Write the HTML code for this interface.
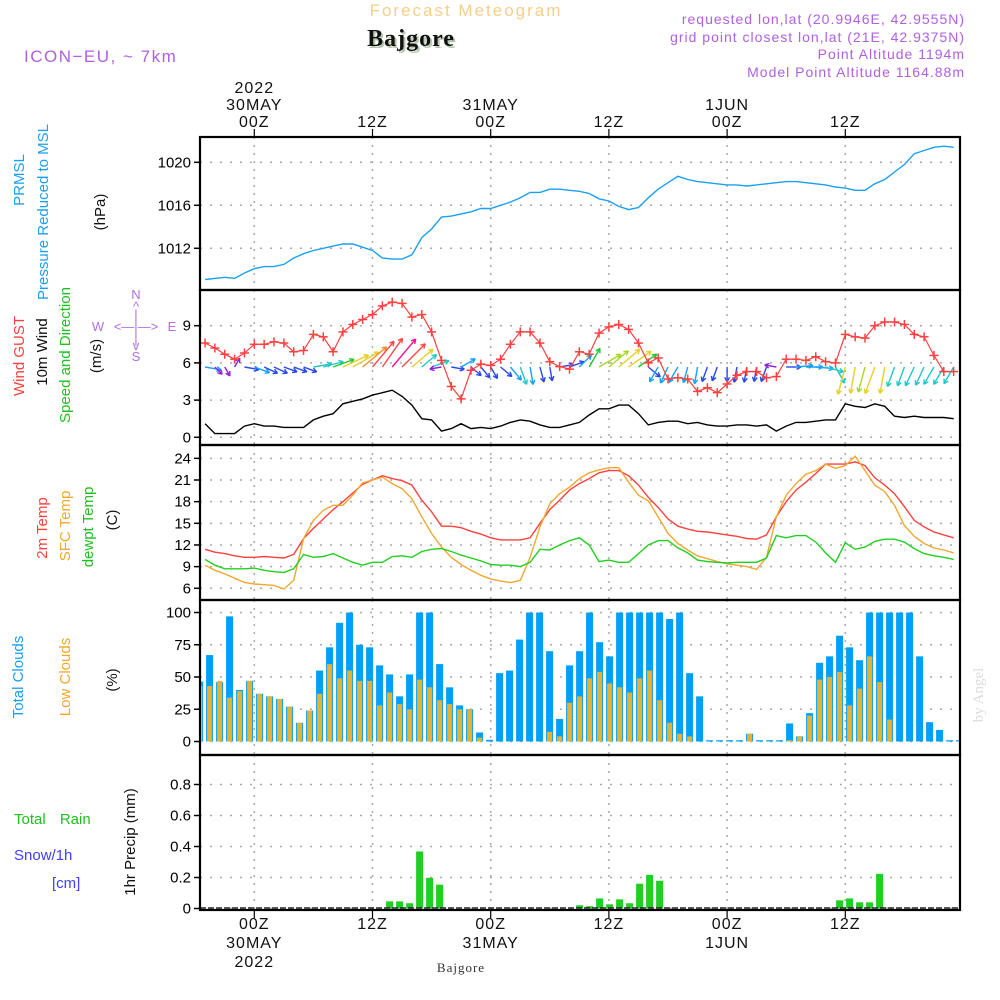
<!DOCTYPE html>
<html><head><meta charset="utf-8"><style>
html,body{margin:0;padding:0;background:#fff;}
svg{display:block;font-family:"Liberation Sans",sans-serif;}
</style></head><body>
<svg id="chart" width="1000" height="1000" viewBox="0 0 1000 1000" xmlns="http://www.w3.org/2000/svg">
<defs><clipPath id="plotclip"><rect x="201" y="137" width="758" height="773"/></clipPath></defs>
<g>
<text x="466" y="16" text-anchor="middle" font-size="17" fill="#f5cf8a" letter-spacing="2">Forecast Meteogram</text>
<text x="413" y="48" text-anchor="middle" font-size="24" font-weight="bold" font-family="Liberation Serif, serif" fill="#b8c8b0" letter-spacing="1">Bajgore</text>
<text x="411" y="46" text-anchor="middle" font-size="24" font-weight="bold" font-family="Liberation Serif, serif" fill="#111" letter-spacing="1">Bajgore</text>
<text x="24" y="62" font-size="17" fill="#b060e0" letter-spacing="1.5">ICON−EU, ~ 7km</text>
<g font-size="14" fill="#b060e0" text-anchor="end" letter-spacing="1">
<text x="965" y="24">requested lon,lat (20.9946E, 42.9555N)</text>
<text x="965" y="42">grid point closest lon,lat (21E, 42.9375N)</text>
<text x="965" y="59">Point Altitude 1194m</text>
<text x="965" y="77">Model Point Altitude 1164.88m</text>
</g>
</g>
<g id="axes"></g>
<g id="marks" clip-path="url(#plotclip)"></g>
<g font-size="15">
<text transform="translate(24,180) rotate(-90)" text-anchor="middle" fill="#1aa0f0">PRMSL</text>
<text transform="translate(48,212) rotate(-90)" text-anchor="middle" fill="#1aa0f0">Pressure Reduced to MSL</text>
<text transform="translate(105,212) rotate(-90)" text-anchor="middle" fill="#111">(hPa)</text>
<text transform="translate(24,356) rotate(-90)" text-anchor="middle" fill="#ff4040">Wind GUST</text>
<text transform="translate(47,352) rotate(-90)" text-anchor="middle" fill="#111">10m Wind</text>
<text transform="translate(70,355) rotate(-90)" text-anchor="middle" fill="#20c020">Speed and Direction</text>
<text transform="translate(101,356) rotate(-90)" text-anchor="middle" fill="#111">(m/s)</text>
<text transform="translate(47,528) rotate(-90)" text-anchor="middle" fill="#ff4040">2m Temp</text>
<text transform="translate(70,526) rotate(-90)" text-anchor="middle" fill="#f0a830">SFC Temp</text>
<text transform="translate(93,527) rotate(-90)" text-anchor="middle" fill="#20c020">dewpt Temp</text>
<text transform="translate(117,520) rotate(-90)" text-anchor="middle" fill="#111">(C)</text>
<text transform="translate(23,677) rotate(-90)" text-anchor="middle" fill="#1aa0f0">Total Clouds</text>
<text transform="translate(70,677) rotate(-90)" text-anchor="middle" fill="#f0a830">Low Clouds</text>
<text transform="translate(117,680) rotate(-90)" text-anchor="middle" fill="#111">(%)</text>
<text x="14" y="824" fill="#20c020" word-spacing="10">Total Rain</text>
<text x="14" y="860" fill="#4040ff">Snow/1h</text>
<text x="52" y="888" fill="#4040ff">[cm]</text>
<text transform="translate(135,842) rotate(-90)" text-anchor="middle" fill="#111">1hr Precip (mm)</text>
</g>
<g font-size="13" fill="#b070e0" text-anchor="middle">
<text x="136" y="299">N</text><text x="136" y="311">^</text><text x="136" y="319">|</text>
<text x="98" y="331">W</text><text x="136" y="331">&lt;—|—&gt;</text><text x="172" y="331">E</text>
<text x="136" y="343">|</text><text x="136" y="350">v</text><text x="136" y="361">S</text>
</g>
<text transform="translate(983,695) rotate(-90)" text-anchor="middle" font-size="15" font-family="Liberation Serif, serif" fill="#ddd">by Angel</text>
<text x="461" y="972" text-anchor="middle" font-size="13" font-family="Liberation Serif, serif" fill="#333" letter-spacing="1">Bajgore</text>
</svg>
<script>
const pres=[1009.1,1009.2,1009.3,1009.2,1009.7,1010.1,1010.3,1010.3,1010.5,1011.1,1011.5,1011.8,1012.0,1012.2,1012.4,1012.4,1012.1,1011.8,1011.1,1011.0,1011.0,1011.4,1013.0,1013.8,1014.9,1015.0,1015.2,1015.4,1015.7,1015.7,1016.0,1016.3,1016.7,1017.2,1017.2,1017.5,1017.5,1017.4,1017.3,1017.1,1016.6,1016.4,1015.9,1015.6,1015.8,1016.7,1017.5,1018.1,1018.7,1018.4,1018.2,1018.1,1018.0,1017.9,1017.9,1017.8,1017.9,1018.0,1018.1,1018.2,1018.2,1018.1,1018.0,1017.9,1017.7,1017.6,1017.4,1017.4,1018.0,1018.4,1019.1,1019.8,1020.8,1021.1,1021.4,1021.5,1021.4];
const gust=[7.6,7.2,6.7,6.3,6.8,7.5,7.5,7.7,7.6,6.9,7.0,8.3,8.1,6.9,8.5,9.1,9.5,9.9,10.6,10.9,10.8,9.7,9.9,8.5,6.2,4.1,3.1,5.4,5.9,5.8,6.3,7.5,8.5,8.5,7.6,6.1,5.7,5.5,6.9,6.7,8.4,8.9,9.1,8.7,7.6,6.0,6.4,4.7,4.8,4.7,3.7,4.0,3.6,4.3,5.0,5.3,5.3,4.8,4.9,6.3,6.3,6.2,6.5,6.1,6.0,8.3,8.1,8.0,9.0,9.3,9.3,9.1,8.3,8.1,6.6,5.3,5.3];
const wind=[1.1,0.3,0.3,0.3,0.9,1.1,0.9,0.9,0.8,0.8,0.8,1.4,1.7,1.9,2.7,2.9,3.1,3.4,3.6,3.8,3.3,2.6,1.5,1.4,0.5,0.7,1.1,0.7,0.8,0.7,0.9,1.2,1.4,1.3,1.0,0.8,0.8,1.0,1.2,1.8,2.3,2.3,2.6,2.6,1.9,1.0,1.2,1.3,1.3,1.1,1.2,1.0,0.9,0.9,1.0,1.0,0.9,1.0,0.5,0.9,1.2,1.2,1.3,1.4,1.4,2.7,2.5,2.4,2.7,2.5,1.7,1.6,1.7,1.6,1.6,1.6,1.5];
const windDir=[-10,-45,-60,60,-10,-20,-25,-25,-20,-20,-20,10,15,20,25,30,40,50,55,50,45,40,40,20,-170,-10,30,-40,-50,-60,-40,-50,-70,-80,-75,-80,10,20,45,60,30,40,40,35,35,-40,-120,-115,-120,-105,-100,-110,-110,-90,-100,-100,-100,-110,170,0,5,0,-5,-15,-60,-105,-100,-105,-110,-100,-110,-110,-115,-115,-120,-120,-120];
const t2m=[11.4,11.0,10.8,10.5,10.3,10.3,10.4,10.3,10.2,10.7,12.9,14.3,15.6,16.9,18.0,19.2,20.4,21.0,21.6,21.2,20.9,20.3,18.2,16.6,14.6,14.6,14.4,13.9,13.5,13.0,12.7,12.7,12.7,13.0,15.0,16.9,18.2,19.6,20.5,21.2,22.0,22.3,22.3,21.6,20.3,18.6,17.2,15.6,14.6,14.2,13.9,13.8,13.6,13.4,13.2,12.9,12.8,13.4,15.9,18.0,19.6,20.7,21.9,23.2,23.2,23.2,23.5,23.0,21.3,20.3,19.1,17.3,15.4,14.5,13.8,13.4,13.0];
const tsfc=[9.2,8.5,8.0,7.4,6.8,6.6,6.5,6.4,5.9,7.1,12.9,15.4,16.8,17.5,17.5,18.9,20.6,21.0,21.4,20.5,19.8,18.4,15.9,13.6,11.7,10.3,9.3,8.5,7.8,7.3,7.0,6.8,7.1,10.3,14.5,17.7,19.1,20.0,21.2,22.0,22.4,22.7,22.7,20.7,18.9,18.1,15.9,13.6,12.2,11.3,10.5,10.1,9.7,9.4,9.2,9.0,8.6,10.3,15.9,18.9,20.5,21.8,22.3,23.2,22.6,23.0,24.3,22.3,20.3,19.4,17.5,14.7,13.2,12.2,11.6,11.3,10.9];
const dewpt=[10.0,9.2,8.7,8.7,8.7,8.8,8.5,8.3,8.2,8.7,10.7,10.3,10.4,10.8,10.2,9.6,9.2,9.6,9.6,10.4,10.5,10.3,11.1,11.4,11.5,11.1,10.6,10.2,9.8,9.3,9.2,9.2,9.0,9.6,11.4,11.3,12.0,12.6,13.0,12.0,9.7,9.9,9.6,9.6,10.8,12.0,12.6,12.6,11.6,10.9,9.9,9.7,9.6,9.5,9.6,9.6,9.6,10.2,13.3,13.0,13.3,13.3,12.4,10.9,9.6,12.3,11.4,11.7,12.5,12.8,12.8,12.4,11.5,10.8,10.5,10.3,10.0];
const totalClouds=[46.5,67,46,97,40,47,37,35,33,27,14.5,24,55,73,92,100,75,73,59,52,35,52,100,100,60,42,28,25,7,1.3,53,55,79,100,100,70,17.5,59,70,100,77,66,100,100,100,100,100,95,100,53,35,1,1,1,1,6,1,1,1,14,4,22,61,66,82,73,63,100,100,100,100,100,66,15,9,1,1];
const lowClouds=[43,43,47,34,39,47,37,35,33,27,14.5,24,37,60,49,55,47,47,28,38,29,25,48,42,32,29,25,25,3,0,0,0,0,0,0,7.5,4,30,35,49,54,45,42,38,49,55,32,14.5,6,4,0,0,0,0,0,6,0,0,0,1,4,20,48,50,54,28,41,66,46,17,0,0,0,0,0,0,0];
const precip=[0,0,0,0,0,0,0,0,0,0,0,0,0,0,0,0,0,0,0,0.046,0.046,0.034,0.368,0.198,0.154,0,0,0,0,0,0,0,0,0,0,0,0,0,0.021,0.015,0.065,0.027,0.059,0.034,0.16,0.217,0.179,0,0,0,0,0,0,0,0,0,0,0,0,0,0,0,0,0,0.053,0.065,0.04,0.04,0.223,0.006,0,0,0,0,0,0,0];
const presTicks=[1012,1016,1020];
const windTicks=[0,3,6,9];
const tempTicks=[6,9,12,15,18,21,24];
const cloudTicks=[0,25,50,75,100];
const precipTicks=[0,0.2,0.4,0.6,0.8];
const timeHours=[0,12,24,36,48,60];
const timeTop=[["2022","30MAY","00Z"],["","","12Z"],["","31MAY","00Z"],["","","12Z"],["","1JUN","00Z"],["","","12Z"]];
const timeBottom=[["00Z","30MAY","2022"],["12Z","",""],["00Z","31MAY",""],["12Z","",""],["00Z","1JUN",""],["12Z","",""]];

const NS="http://www.w3.org/2000/svg";
const axes=document.getElementById('axes'), marks=document.getElementById('marks');
function el(tag,attrs,parent){const e=document.createElementNS(NS,tag);for(const k in attrs)e.setAttribute(k,attrs[k]);(parent||marks).appendChild(e);return e;}
const L=200,R=960;
const xH=h=>254.3+9.85*h;
const xL=i=>xH(i-5);
const xB=i=>199.6+10*i;
const yP=v=>162.3-(v-1020)*10.75;
const yW=v=>437.3-v*12.4;
const yT=v=>588.3-(v-6)*7.22;
const yC=v=>741.5-v*1.29;
const yR=v=>908.5-v*155;
const panels=[[137,290,'pressure',presTicks,yP,v=>v],[290,445,'wind',windTicks,yW,v=>v],[445,600,'temperature',tempTicks,yT,v=>v],[600,755,'clouds',cloudTicks,yC,v=>v],[755,910,'precip',precipTicks,yR,v=>v===0?'0':v.toFixed(1)]];
panels.forEach(p=>{
  const g=el('g',{},axes);
  
  
  timeHours.forEach(h=>{const l=el('line',{x1:xH(h),x2:xH(h),y1:p[0],y2:p[1],stroke:'#aaa','stroke-width':1.5,'stroke-dasharray':'2,6'},g);
    });
  p[3].forEach(v=>{const y=p[4](v);
    if(y>p[0]+2&&y<p[1]-1){const l=el('line',{x1:L,x2:R,y1:y,y2:y,stroke:'#aaa','stroke-width':1.5,'stroke-dasharray':'2,8'},g);
      }
    const tk=el('line',{x1:L-6,x2:L,y1:y,y2:y,stroke:'#000','stroke-width':1.5},g);
    
    const t=el('text',{x:L-9,y:y+5,'text-anchor':'end','font-size':15,fill:'#000'},g);
    
    t.textContent=p[5](v);});
  const fr=el('rect',{x:L,y:p[0],width:R-L,height:p[1]-p[0],fill:'none',stroke:'#000','stroke-width':2.2},g);
  
});
timeHours.forEach((h,k)=>{
  const x=xH(h);
  [el('line',{x1:x,x2:x,y1:129,y2:137,stroke:'#000','stroke-width':1.2},axes),el('line',{x1:x,x2:x,y1:910,y2:918,stroke:'#000','stroke-width':1.2},axes)].forEach(t=>{
    });
  timeTop[k].forEach((s,j)=>{if(!s)return;const t=el('text',{x:x,y:93+j*17,'text-anchor':'middle','font-size':16,fill:'#111','letter-spacing':1},axes);
    t.textContent=s;});
  timeBottom[k].forEach((s,j)=>{if(!s)return;const t=el('text',{x:x,y:929+j*19,'text-anchor':'middle','font-size':16,fill:'#111','letter-spacing':1},axes);
    t.textContent=s;});
});
function line(arr,yf,color,name,w){
  const d=arr.map((v,i)=>(i?'L':'M')+xL(i).toFixed(1)+','+yf(v).toFixed(1)).join('');
  const p=el('path',{d:d,fill:'none',stroke:color,'stroke-width':w||1.4});
  return p;}
line(pres,yP,'#1aa0f0','pressure-line');
totalClouds.forEach((v,i)=>{const r=el('rect',{x:xB(i)-3.5,y:yC(v),width:7,height:Math.max(0.8,741.5-yC(v)),fill:'#00a0f8'});
  });
lowClouds.forEach((v,i)=>{if(v<=0)return;const r=el('rect',{x:xB(i)-2.5,y:yC(v),width:5,height:741.5-yC(v),fill:'#e8b030'});
  });
precip.forEach((v,i)=>{if(v<=0)return;const r=el('rect',{x:xB(i)-3.5,y:yR(v),width:7,height:908.5-yR(v),fill:'#20d020'});
  });
const zl=el('line',{x1:L,x2:R,y1:908,y2:908,stroke:'#222','stroke-width':1.5,'stroke-dasharray':'6,2'});

line(t2m,yT,'#ff4040','temp-2m-line');
line(tsfc,yT,'#f0a830','temp-sfc-line');
line(dewpt,yT,'#20d020','dewpoint-line');
line(wind,yW,'#000','wind-10m-line');
function windColor(s){if(s<0.6)return'#9020e0';if(s<1.1)return'#2848f0';if(s<1.4)return'#1aa0f8';if(s<1.8)return'#20c8c8';if(s<2.2)return'#20c830';if(s<2.5)return'#a8d820';if(s<3.0)return'#e8d028';if(s<3.3)return'#f09028';if(s<3.7)return'#ff4848';return'#ff1090';}
wind.forEach((s,i)=>{
  const a=windDir[i]*Math.PI/180, len=8+7.5*s, x0=xL(i), y0=367;
  const x1=x0+len*Math.cos(a), y1=y0-len*Math.sin(a);
  const c=windColor(s), g=el('g',{stroke:c,'stroke-width':1.4,fill:'none'});
  
  
  el('line',{x1:x0,y1:y0,x2:x1,y2:y1},g);
  const ha=5;[0.5,-0.5].forEach(o=>{const b=a+Math.PI+o;el('line',{x1:x1,y1:y1,x2:x1+ha*Math.cos(b),y2:y1-ha*Math.sin(b)},g);});
});
line(gust,yW,'#ff4040','wind-gust-line',1.2);
gust.forEach((v,i)=>{const x=xL(i),y=yW(v),g=el('g',{stroke:'#ff4040','stroke-width':1.5});
  
  
  el('line',{x1:x-4.5,x2:x+4.5,y1:y,y2:y},g);el('line',{x1:x,x2:x,y1:y-4.5,y2:y+4.5},g);});
</script>
</body></html>
